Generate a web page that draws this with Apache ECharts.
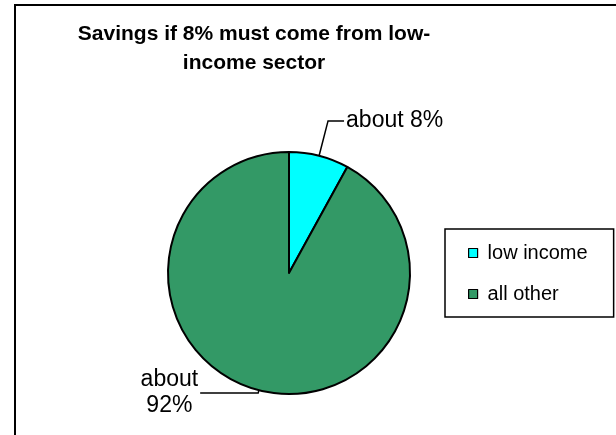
<!DOCTYPE html>
<html>
<head>
<meta charset="utf-8">
<script src="https://cdn.jsdelivr.net/npm/echarts@6/dist/echarts.min.js"></script>
<style>
html,body{margin:0;padding:0;background:#fff;}
#chart{width:616px;height:435px;}
</style>
</head>
<body>
<div id="chart"></div>
<script>
var titleText = 'Savings if 8% must come from low-\nincome sector';
var categories = ['low income', 'all other'];
var values = [8, 92];
var labelTexts = ['about 8%', 'about\n92%'];
var colors = ['#00FFFF', '#339966'];

var FONT = '"Liberation Sans", Arial, sans-serif';

var chart = echarts.init(document.getElementById('chart'), null, {renderer: 'canvas'});

var data = categories.map(function (c, i) {
  var lines = labelTexts[i].split('\n').map(function (t) { return '{c|' + t + '}'; }).join('\n');
  return {
    name: c,
    value: values[i],
    itemStyle: {color: colors[i]},
    label: {formatter: lines},
    labelLine: i === 0 ? {length: 36, length2: 16} : {length: 3, length2: 58}
  };
});

chart.setOption({
  animation: false,
  backgroundColor: '#ffffff',
  title: {
    text: titleText,
    left: 254,
    top: 20,
    textAlign: 'center',
    padding: 0,
    textStyle: {
      fontFamily: FONT,
      fontWeight: 'bold',
      fontSize: 21,
      lineHeight: 29,
      color: '#000'
    }
  },
  legend: {
    orient: 'vertical',
    left: 445,
    top: 229,
    padding: [14, 26, 13, 23],
    borderColor: '#000',
    borderWidth: 1.5,
    itemWidth: 9,
    itemHeight: 9,
    itemGap: 21,
    icon: 'rect',
    selectedMode: false,
    itemStyle: {borderColor: '#000', borderWidth: 1.2},
    textStyle: {
      fontFamily: FONT,
      fontSize: 20,
      lineHeight: 20,
      color: '#000',
      padding: [0, 0, 0, 5]
    },
    data: categories
  },
  graphic: [{
    type: 'rect',
    silent: true,
    shape: {x: 15, y: 5, width: 800, height: 600},
    style: {fill: 'none', stroke: '#000', lineWidth: 2}
  }],
  series: [{
    type: 'pie',
    center: [289, 273],
    radius: 121,
    startAngle: 90,
    clockwise: true,
    avoidLabelOverlap: false,
    emphasis: {disabled: true},
    itemStyle: {borderColor: '#000', borderWidth: 2},
    label: {
      show: true,
      position: 'outside',
      color: '#000',
      fontFamily: FONT,
      fontSize: 23,
      distanceToLabelLine: 2,
      rich: {
        c: {align: 'center', fontFamily: FONT, fontSize: 23, lineHeight: 26, color: '#000'}
      }
    },
    labelLine: {
      show: true,
      smooth: false,
      lineStyle: {color: '#000', width: 1.5}
    },
    data: data
  }]
});
</script>
</body>
</html>
